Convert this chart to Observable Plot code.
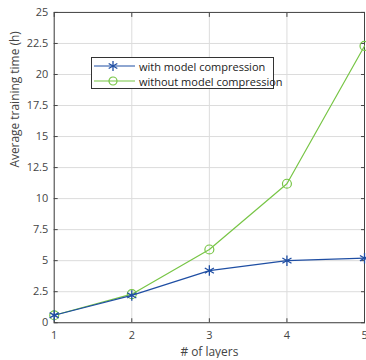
<!DOCTYPE html>
<html><head><meta charset="utf-8">
<script src="https://cdn.jsdelivr.net/npm/d3@7"></script>
<script src="https://cdn.jsdelivr.net/npm/@observablehq/plot@0.6"></script>
<style>
body{margin:0;background:#fff;overflow:hidden;font-family:"Open Sans",sans-serif;}
#wrap{position:relative;width:366px;height:360px;overflow:hidden;}
#legend{position:absolute;left:91px;top:57px;width:183px;height:32px;border:1px solid #333;background:#fff;font-size:11px;color:#222;box-sizing:border-box;}
.row{position:absolute;left:0;height:14px;display:flex;align-items:center;}
.row span{margin-left:3px;white-space:nowrap;}
</style></head>
<body><div id="wrap"><div id="legend"></div></div>
<script>
const layers = [1, 2, 3, 4, 5];
const withCompression = [0.6, 2.2, 4.2, 5.0, 5.2];
const withoutCompression = [0.6, 2.3, 5.9, 11.2, 22.3];
const seriesNames = ["with model compression", "without model compression"];
const yTicks = [0, 2.5, 5, 7.5, 10, 12.5, 15, 17.5, 20, 22.5, 25];
const yTickLabels = ["0", "2.5", "5", "7.5", "10", "12.5", "15", "17.5", "20", "22.5", "25"];
const xTickLabels = ["1", "2", "3", "4", "5"];
const blue = "#1f4ea3", green = "#77c545";

const dWith = layers.map((x, i) => ({x, y: withCompression[i]}));
const dWithout = layers.map((x, i) => ({x, y: withoutCompression[i]}));
const fmtY = d => yTickLabels[yTicks.indexOf(d)];
const fmtX = d => xTickLabels[layers.indexOf(d)];

const chart = Plot.plot({
  width: 368, height: 360,
  marginLeft: 54, marginRight: 2, marginTop: 12, marginBottom: 36,
  style: {fontFamily: "Open Sans, sans-serif", fontSize: "11px", color: "#444"},
  x: {domain: [1, 5]},
  y: {domain: [0, 25]},
  marks: [
    Plot.gridX(layers, {stroke: "#dcdcdc", strokeOpacity: 1}),
    Plot.gridY(yTicks, {stroke: "#dcdcdc", strokeOpacity: 1}),
    Plot.axisX({ticks: layers, tickFormat: fmtX, tickSize: -4, tickPadding: 13, stroke: "#444", fill: "#444", label: null}),
    Plot.axisX({ticks: layers, anchor: "top", tickSize: -4, tickFormat: () => "", stroke: "#444", label: null}),
    Plot.axisY({ticks: yTicks, tickFormat: fmtY, tickSize: -4, tickPadding: 10, stroke: "#444", fill: "#444", label: null}),
    Plot.axisY({ticks: yTicks, anchor: "right", tickSize: -4, tickFormat: () => "", stroke: "#444", label: null}),
    Plot.frame({stroke: "#444"}),
    Plot.text(["# of layers"], {frameAnchor: "bottom", dy: 33, fill: "#444", fontSize: 12}),
    Plot.text(["Average training time (h)"], {frameAnchor: "left", dx: -39, rotate: -90, fill: "#444", fontSize: 12}),
    Plot.line(dWithout, {x: "x", y: "y", stroke: green, strokeWidth: 1.2}),
    Plot.dot(dWithout, {x: "x", y: "y", stroke: green, fill: "none", r: 4.5, strokeWidth: 1.2}),
    Plot.line(dWith, {x: "x", y: "y", stroke: blue, strokeWidth: 1.2}),
    Plot.dot(dWith, {x: "x", y: "y", stroke: blue, symbol: "asterisk", r: 5, strokeWidth: 1.3})
  ]
});
document.getElementById("wrap").insertBefore(chart, document.getElementById("legend"));

const legend = document.getElementById("legend");
[[seriesNames[0], blue, "star"], [seriesNames[1], green, "circle"]].forEach(([name, col, kind], i) => {
  const row = document.createElement("div");
  row.className = "row";
  row.style.top = (1 + i * 15) + "px";
  const marker = kind === "circle"
    ? `<circle cx="21" cy="7" r="4" fill="none" stroke="${col}" stroke-width="1.2"/>`
    : `<g stroke="${col}" stroke-width="1.3"><line x1="21" y1="2" x2="21" y2="12"/><line x1="16.7" y1="4.5" x2="25.3" y2="9.5"/><line x1="16.7" y1="9.5" x2="25.3" y2="4.5"/></g>`;
  row.innerHTML = `<svg width="44" height="14"><line x1="2" y1="7" x2="43" y2="7" stroke="${col}" stroke-width="1.2"/>${marker}</svg><span>${name}</span>`;
  legend.appendChild(row);
});
</script></body></html>
